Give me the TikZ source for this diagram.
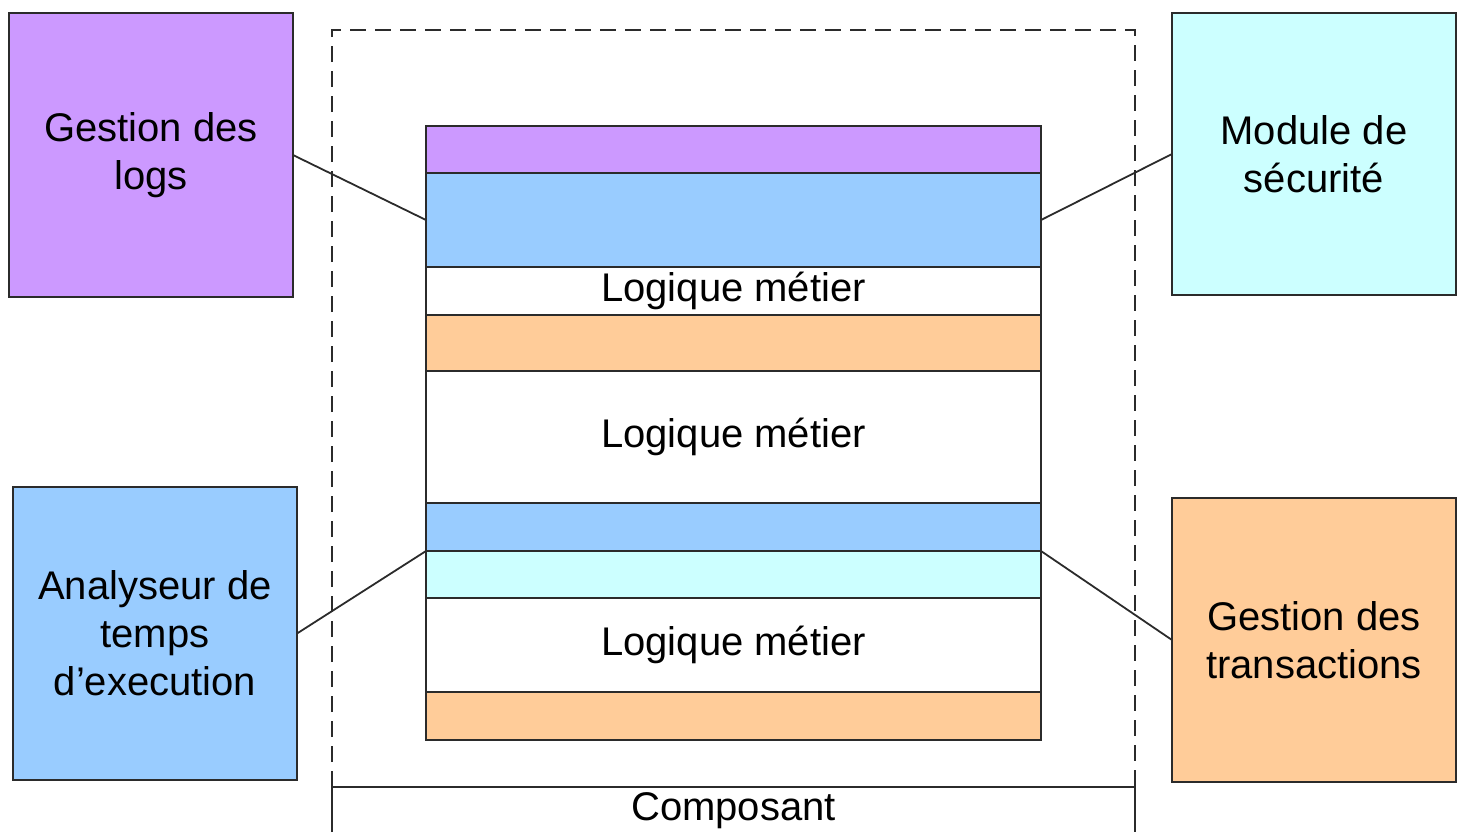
\documentclass[tikz,border=0pt]{standalone}
\usepackage{fontspec}
\setmainfont{Liberation Sans}
\usetikzlibrary{positioning}

\definecolor{violet}{HTML}{CC99FF}
\definecolor{bleu}{HTML}{99CCFF}
\definecolor{cyan}{HTML}{CCFFFF}
\definecolor{orange}{HTML}{FFCC99}
\definecolor{trait}{HTML}{2B2B2B}

\begin{document}
\begin{tikzpicture}[x=0.5pt, y=-0.5pt,
  module/.style = {draw=trait, line width=1.1pt, minimum width=142pt, minimum height=142pt, anchor=north west, inner sep=0pt, outer sep=0pt, align=center, font=\fontsize{20}{24}\selectfont},
  couche/.style = {draw=trait, line width=1.1pt, minimum width=307.5pt, anchor=north west, inner sep=0pt, outer sep=0pt, font=\fontsize{20}{24}\selectfont},
  lien/.style = {draw=trait, line width=0.9pt}]
\useasboundingbox (0,0) rectangle (1462,832);

% le composant
\draw[trait, line width=1.1pt, dash pattern=on 8pt off 4.5pt] (332,787) -- (332,30) -- (1135,30) -- (1135,787);
\draw[trait, line width=1.1pt] (332,832) -- (332,787) -- (1135,787) -- (1135,832);
\node (composant) at (733.5,811) {\fontsize{20}{24}\selectfont Composant};

% les couches
\node[couche, fill=violet, minimum height=23.5pt] (c1) at (426,126) {};
\node[couche, fill=bleu, minimum height=47pt] (c2) at (426,173) {};
\node[couche, fill=white, minimum height=24pt] (c3) at (426,267) {\raisebox{-1pt}{Logique métier}};
\node[couche, fill=orange, minimum height=28pt] (c4) at (426,315) {};
\node[couche, fill=white, minimum height=66pt] (c5) at (426,371) {\raisebox{-1pt}{Logique métier}};
\node[couche, fill=bleu, minimum height=24pt] (c6) at (426,503) {};
\node[couche, fill=cyan, minimum height=23.5pt] (c7) at (426,551) {};
\node[couche, fill=white, minimum height=47pt] (c8) at (426,598) {\raisebox{-1pt}{Logique métier}};
\node[couche, fill=orange, minimum height=24pt] (c9) at (426,692) {};

% les modules
\node[module, fill=violet] (logs) at (9,13) {Gestion des\\logs};
\node[module, fill=cyan, minimum height=141pt] (securite) at (1172,13) {Module de\\sécurité};
\node[module, fill=bleu, minimum height=146.5pt] (analyseur) at (13,487) {Analyseur de\\temps\\d’execution};
\node[module, fill=orange] (transactions) at (1172,498) {Gestion des\\transactions};

\draw[lien] (logs.east) -- (c2.west);
\draw[lien] (securite.west) -- (c2.east);
\draw[lien] (analyseur.east) -- (c7.north west);
\draw[lien] (transactions.west) -- (c7.north east);
\end{tikzpicture}
\end{document}
